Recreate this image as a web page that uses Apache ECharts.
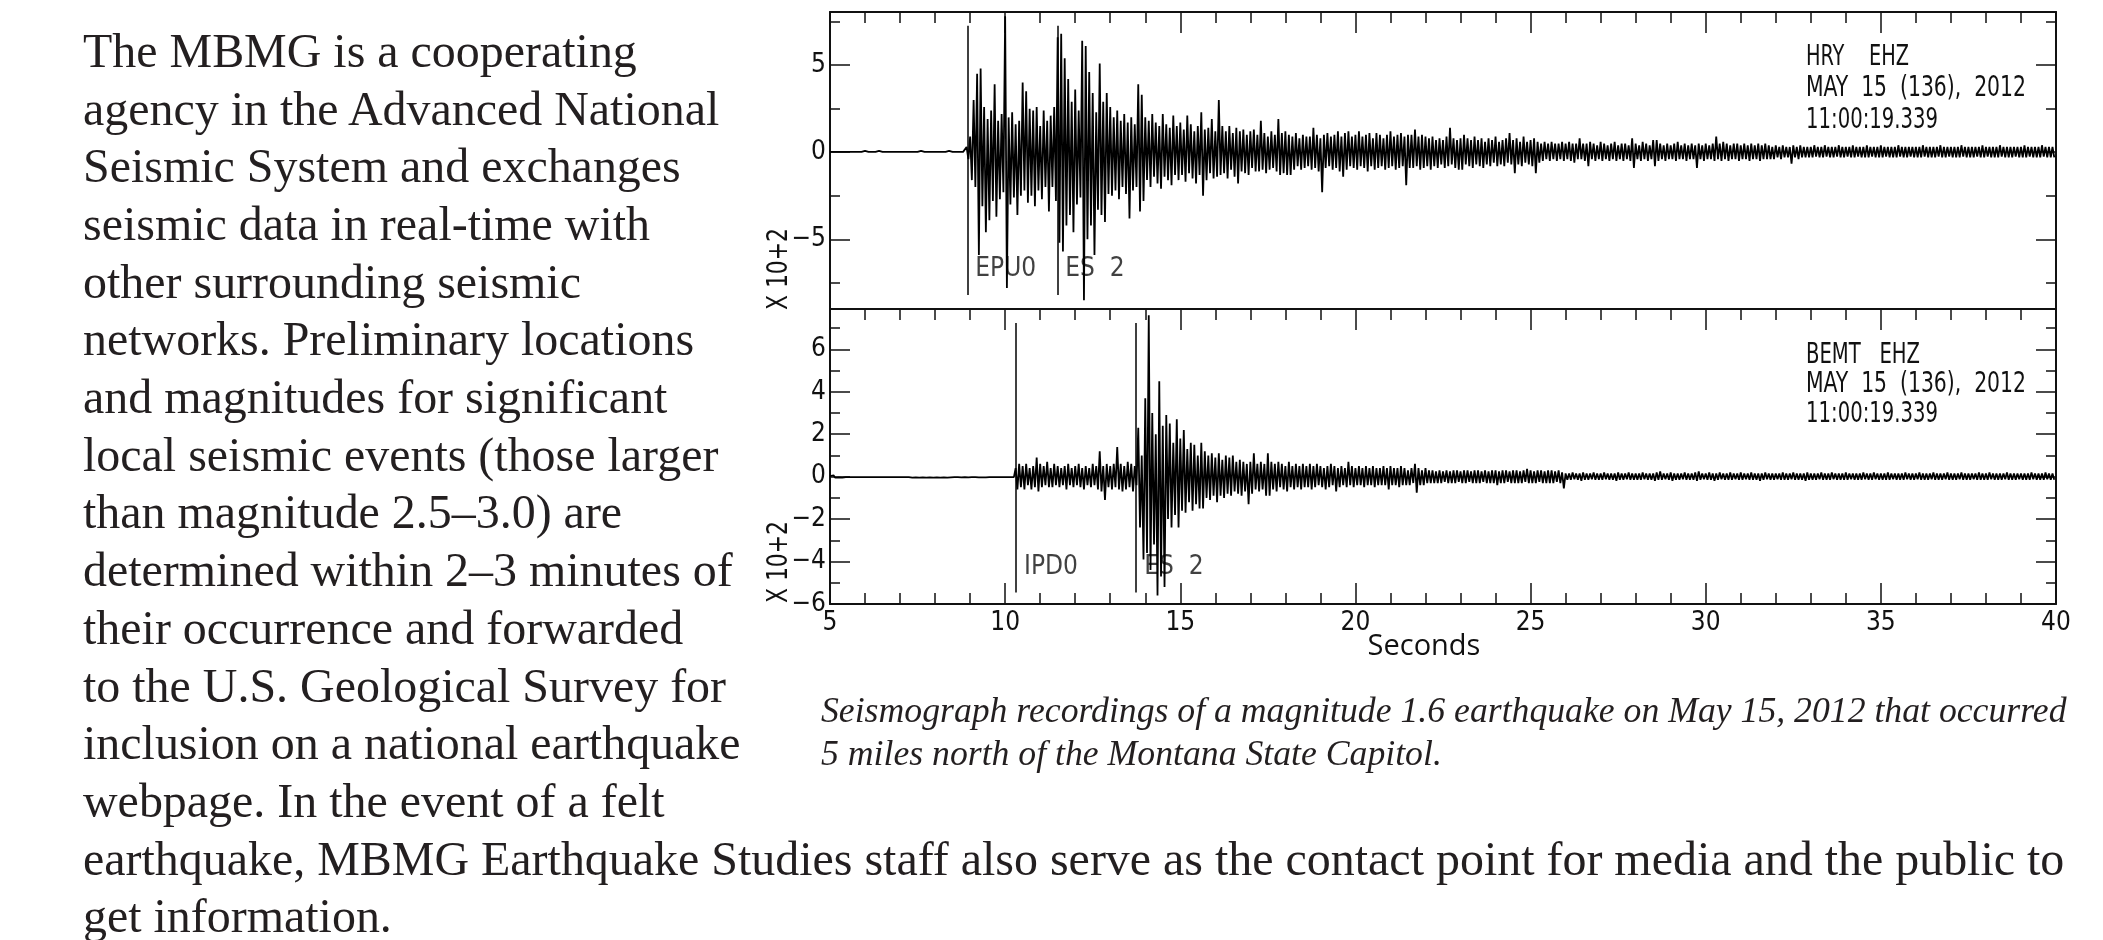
<!DOCTYPE html>
<html>
<head>
<meta charset="utf-8">
<script src="https://cdn.jsdelivr.net/npm/echarts@6/dist/echarts.min.js"></script>
<style>
html,body{margin:0;padding:0;background:#fff;}
#page{position:relative;width:2103px;height:940px;overflow:hidden;background:#fff;}
#chart{position:absolute;left:0;top:0;width:2103px;height:940px;}
.ln{position:absolute;white-space:pre;color:#231f20;font-family:"Liberation Serif","Times New Roman",serif;}
</style>
</head>
<body>
<div id="page"><div id="chart"></div></div>
<script>
// sample grid of both traces: one peak/trough pair per 0.1 s bin, from 5.0 s
var T0 = 5, DT = 0.1;

// HRY EHZ, x 10^2 counts, peak (hi) and trough (lo) per bin
var hryHi = [
 0.02,0.02,0.02,0.02,0.02,0.02,0.02,0.02,0.02,0.02,
 0.08,0.02,0.02,0.02,0.08,0.02,0.02,0.02,0.02,0.02,
 0.02,0.02,0.02,0.02,0.02,0.02,0.08,0.02,0.02,0.02,
 0.02,0.02,0.02,0.02,0.08,0.02,0.02,0.02,0.02,0.3,
 0.9,3.0,4.5,4.8,2.6,1.9,2.4,3.9,1.8,2.2,
 7.8,2.0,2.3,1.6,1.8,4.0,3.5,2.5,2.4,2.6,
 1.5,2.4,1.8,2.1,2.6,6.6,6.8,5.4,4.2,2.9,
 3.6,2.4,6.4,6.1,4.6,3.4,2.3,5.1,2.9,3.4,
 2.6,2.0,2.4,1.8,2.2,1.7,2.0,1.6,3.9,3.3,
 2.0,1.8,2.2,1.7,1.5,2.2,1.6,1.4,2.1,1.5,
 1.7,1.3,2.1,1.6,1.2,1.5,2.3,1.3,1.4,1.9,
 1.2,3.0,1.5,1.2,1.5,1.1,1.4,1.2,1.3,1.0,
 1.2,1.3,1.0,1.8,1.1,0.9,1.2,1.0,1.9,1.1,
 1.2,1.0,0.9,1.1,0.8,1.0,0.9,0.9,1.4,1.0,
 0.8,1.0,1.1,0.9,1.0,1.2,0.9,1.1,1.2,0.9,
 1.0,1.2,0.9,1.0,1.1,0.8,1.1,1.0,0.8,1.0,
 1.2,0.9,1.0,1.1,0.9,1.0,1.0,1.3,0.9,1.0,
 0.9,0.8,0.9,0.7,0.8,0.7,0.9,1.4,0.8,0.7,
 0.8,1.0,0.8,0.7,0.9,0.7,0.8,0.6,0.8,0.7,
 0.9,0.6,0.7,0.8,1.1,0.7,0.8,0.6,0.9,0.6,
 0.7,0.8,0.6,0.5,0.6,0.5,0.6,0.5,0.5,0.6,
 0.5,0.6,0.5,0.5,0.8,0.5,0.5,0.6,0.5,0.4,
 0.6,0.5,0.4,0.5,0.6,0.4,0.5,0.5,0.4,0.8,
 0.5,0.4,0.6,0.5,0.4,0.7,0.7,0.5,0.4,0.5,
 0.4,0.5,0.6,0.4,0.5,0.4,0.5,0.4,0.5,0.4,
 0.5,0.4,0.5,0.9,0.5,0.6,0.5,0.4,0.5,0.5,
 0.4,0.5,0.4,0.5,0.4,0.5,0.4,0.5,0.4,0.3,
 0.4,0.3,0.4,0.3,0.3,0.4,0.3,0.4,0.3,0.3,
 0.3,0.4,0.3,0.3,0.4,0.3,0.3,0.3,0.4,0.3,
 0.3,0.3,0.4,0.3,0.3,0.3,0.4,0.3,0.3,0.3,
 0.4,0.3,0.3,0.3,0.3,0.4,0.3,0.3,0.3,0.3,
 0.3,0.3,0.4,0.3,0.3,0.3,0.3,0.4,0.3,0.3,
 0.3,0.3,0.3,0.4,0.3,0.3,0.3,0.3,0.3,0.4,
 0.3,0.3,0.3,0.3,0.4,0.3,0.3,0.3,0.3,0.3,
 0.3,0.4,0.3,0.3,0.3,0.3,0.4,0.3,0.3,0.3
];
var hryLo = [
 -0.02,-0.02,-0.02,-0.02,-0.02,-0.02,-0.02,-0.02,-0.02,-0.02,
 -0.02,-0.02,-0.02,-0.02,-0.02,-0.02,-0.02,-0.02,-0.02,-0.02,
 -0.02,-0.02,-0.02,-0.02,-0.02,-0.02,-0.02,-0.02,-0.02,-0.02,
 -0.02,-0.02,-0.02,-0.02,-0.02,-0.02,-0.02,-0.02,-0.02,-0.4,
 -1.6,-2.0,-5.9,-3.1,-4.6,-3.9,-2.8,-3.7,-2.7,-2.3,
 -7.8,-3.0,-2.6,-3.6,-2.5,-2.2,-2.9,-2.5,-3.1,-2.2,
 -2.7,-2.0,-3.4,-2.0,-2.8,-5.2,-5.7,-4.2,-3.6,-4.6,
 -3.0,-2.6,-8.5,-5.0,-4.2,-5.9,-3.3,-3.6,-4.0,-2.4,
 -2.5,-2.2,-2.7,-2.0,-2.4,-3.8,-2.2,-2.0,-3.4,-2.8,
 -1.6,-2.0,-1.4,-1.8,-2.1,-1.4,-1.6,-1.9,-1.3,-1.6,
 -1.3,-1.7,-1.2,-1.5,-1.8,-1.3,-2.5,-1.6,-1.2,-1.5,
 -1.4,-1.3,-1.2,-1.5,-1.0,-1.4,-1.8,-1.1,-1.2,-1.3,
 -0.9,-1.1,-1.1,-1.0,-1.2,-1.0,-0.9,-1.1,-1.3,-1.2,
 -1.3,-1.3,-1.0,-0.8,-1.0,-0.9,-0.8,-1.0,-0.9,-1.1,
 -2.3,-0.9,-0.8,-1.0,-0.9,-1.1,-1.4,-1.0,-0.8,-0.9,
 -1.0,-0.8,-0.9,-1.1,-0.8,-1.0,-0.9,-0.8,-1.0,-0.9,
 -0.8,-1.0,-0.9,-0.8,-1.9,-0.9,-0.9,-0.8,-1.0,-0.9,
 -0.8,-1.0,-0.8,-0.9,-0.7,-0.9,-0.8,-0.7,-0.9,-1.0,
 -1.0,-0.7,-0.8,-0.9,-0.7,-0.8,-0.9,-0.7,-0.8,-0.6,
 -0.8,-0.7,-0.8,-0.6,-0.7,-1.2,-0.7,-0.8,-0.6,-0.7,
 -0.8,-1.2,-0.6,-0.5,-0.4,-0.5,-0.4,-0.5,-0.4,-0.5,
 -0.4,-0.5,-0.6,-0.4,-0.4,-0.5,-0.8,-0.4,-0.5,-0.4,
 -0.5,-0.4,-0.5,-0.4,-0.5,-0.4,-0.5,-0.4,-0.5,-0.9,
 -0.4,-0.5,-0.4,-0.5,-0.4,-0.8,-0.5,-0.4,-0.5,-0.4,
 -0.4,-0.5,-0.4,-0.4,-0.5,-0.4,-0.4,-0.9,-0.4,-0.5,
 -0.4,-0.4,-0.5,-0.4,-0.5,-0.4,-0.5,-0.4,-0.4,-0.5,
 -0.4,-0.4,-0.5,-0.4,-0.4,-0.5,-0.4,-0.4,-0.4,-0.4,
 -0.3,-0.4,-0.3,-0.3,-0.65,-0.3,-0.4,-0.3,-0.3,-0.3,
 -0.3,-0.25,-0.3,-0.3,-0.25,-0.3,-0.3,-0.25,-0.3,-0.3,
 -0.25,-0.3,-0.3,-0.25,-0.3,-0.3,-0.3,-0.25,-0.3,-0.3,
 -0.3,-0.25,-0.3,-0.3,-0.3,-0.25,-0.3,-0.3,-0.25,-0.3,
 -0.3,-0.3,-0.25,-0.3,-0.3,-0.3,-0.25,-0.3,-0.3,-0.25,
 -0.3,-0.3,-0.3,-0.25,-0.3,-0.3,-0.3,-0.25,-0.3,-0.3,
 -0.25,-0.3,-0.3,-0.3,-0.25,-0.3,-0.3,-0.3,-0.25,-0.3,
 -0.3,-0.3,-0.25,-0.3,-0.3,-0.3,-0.25,-0.3,-0.3,-0.3
];

// BEMT EHZ, x 10^2 counts
var bemtHi = [
 0.03,0.06,0.03,0.06,0.02,0.02,0.02,0.02,0.02,0.02,
 0.02,0.02,0.02,0.02,0.02,0.02,0.02,0.02,0.02,0.02,
 0.02,0.02,0.02,0.06,0.03,0.06,0.03,0.06,0.03,0.06,
 0.03,0.06,0.03,0.06,0.03,0.02,0.02,0.03,0.02,0.03,
 0.02,0.02,0.03,0.03,0.03,0.02,0.02,0.02,0.02,0.02,
 0.02,0.02,0.02,0.4,0.6,0.5,0.6,0.4,0.5,0.9,
 0.6,0.5,0.7,0.4,0.6,0.5,0.4,0.5,0.6,0.4,
 0.5,0.6,0.4,0.5,0.4,0.6,0.5,1.2,0.5,0.6,
 0.5,0.6,1.4,0.6,0.5,0.7,0.6,0.5,2.3,1.0,
 3.7,7.6,3.0,2.0,4.5,2.4,2.9,2.5,1.6,2.7,
 1.8,2.2,1.3,1.6,1.5,1.0,1.6,1.2,1.0,1.1,
 0.9,1.1,0.8,1.0,0.9,1.0,0.7,0.8,0.7,0.6,
 0.7,1.1,0.6,0.7,0.6,1.1,0.7,0.6,0.7,0.6,
 0.5,0.7,0.5,0.6,0.5,0.6,0.5,0.6,0.5,0.6,
 0.5,0.4,0.5,0.6,0.5,0.4,0.5,0.4,0.7,0.5,
 0.4,0.5,0.4,0.5,0.4,0.5,0.4,0.4,0.5,0.4,
 0.5,0.4,0.4,0.5,0.4,0.3,0.4,0.6,0.4,0.3,
 0.4,0.3,0.3,0.25,0.3,0.25,0.3,0.25,0.3,0.3,
 0.25,0.3,0.3,0.25,0.3,0.3,0.25,0.3,0.25,0.3,
 0.3,0.25,0.3,0.3,0.25,0.3,0.3,0.25,0.3,0.37,
 0.3,0.25,0.3,0.3,0.25,0.3,0.3,0.25,0.3,0.2,
 0.15,0.15,0.2,0.15,0.15,0.2,0.15,0.15,0.2,0.15,
 0.15,0.2,0.15,0.15,0.15,0.2,0.15,0.15,0.2,0.15,
 0.15,0.15,0.2,0.15,0.15,0.15,0.2,0.25,0.15,0.15,
 0.2,0.15,0.15,0.15,0.2,0.15,0.15,0.2,0.25,0.15,
 0.15,0.2,0.15,0.15,0.2,0.15,0.15,0.2,0.15,0.15,
 0.2,0.15,0.15,0.2,0.15,0.15,0.15,0.2,0.15,0.15,
 0.15,0.15,0.2,0.15,0.15,0.2,0.15,0.15,0.15,0.2,
 0.15,0.15,0.15,0.2,0.15,0.15,0.2,0.15,0.15,0.15,
 0.2,0.15,0.15,0.15,0.15,0.2,0.15,0.15,0.2,0.15,
 0.15,0.15,0.2,0.15,0.15,0.15,0.15,0.2,0.15,0.15,
 0.15,0.2,0.15,0.15,0.15,0.2,0.15,0.15,0.15,0.2,
 0.15,0.15,0.15,0.2,0.15,0.15,0.15,0.15,0.2,0.15,
 0.15,0.2,0.15,0.15,0.15,0.15,0.2,0.15,0.15,0.15,
 0.15,0.15,0.15,0.2,0.15,0.15,0.15,0.2,0.15,0.15
];
var bemtLo = [
 -0.03,-0.05,-0.03,-0.05,-0.02,-0.02,-0.02,-0.02,-0.02,-0.02,
 -0.02,-0.02,-0.02,-0.02,-0.02,-0.02,-0.02,-0.02,-0.02,-0.02,
 -0.02,-0.02,-0.02,-0.05,-0.03,-0.05,-0.03,-0.05,-0.03,-0.05,
 -0.03,-0.05,-0.03,-0.05,-0.03,-0.02,-0.02,-0.03,-0.02,-0.03,
 -0.02,-0.02,-0.03,-0.03,-0.03,-0.02,-0.02,-0.02,-0.02,-0.02,
 -0.02,-0.02,-0.02,-0.6,-0.5,-0.6,-0.4,-0.6,-0.5,-0.7,
 -0.5,-0.4,-0.5,-0.5,-0.4,-0.5,-0.4,-0.6,-0.4,-0.5,
 -0.4,-0.5,-0.6,-0.4,-0.5,-0.4,-0.6,-0.7,-1.1,-0.5,
 -0.6,-0.5,-0.6,-0.7,-0.6,-0.5,-0.7,-0.4,-2.4,-3.9,
 -3.6,-4.4,-3.2,-5.6,-4.7,-5.2,-2.0,-2.4,-1.8,-2.4,
 -1.6,-1.7,-1.2,-1.6,-1.3,-1.5,-1.5,-1.0,-1.1,-0.9,
 -1.2,-0.9,-1.0,-0.8,-0.9,-0.7,-0.8,-0.9,-0.7,-1.3,
 -0.8,-0.6,-0.7,-0.6,-0.9,-0.9,-0.6,-0.7,-0.5,-0.6,
 -0.7,-0.5,-0.6,-0.5,-0.6,-0.5,-0.5,-0.6,-0.5,-0.4,
 -0.5,-0.6,-0.5,-0.4,-0.7,-0.5,-0.4,-0.5,-0.4,-0.5,
 -0.4,-0.4,-0.5,-0.4,-0.4,-0.5,-0.4,-0.4,-0.4,-0.6,
 -0.4,-0.4,-0.5,-0.4,-0.4,-0.4,-0.3,-0.75,-0.4,-0.4,
 -0.3,-0.3,-0.3,-0.3,-0.3,-0.25,-0.3,-0.3,-0.3,-0.25,
 -0.3,-0.3,-0.25,-0.3,-0.3,-0.3,-0.25,-0.3,-0.3,-0.3,
 -0.4,-0.3,-0.3,-0.25,-0.3,-0.3,-0.3,-0.3,-0.25,-0.3,
 -0.3,-0.3,-0.25,-0.3,-0.3,-0.3,-0.3,-0.25,-0.3,-0.55,
 -0.15,-0.15,-0.12,-0.15,-0.2,-0.15,-0.15,-0.12,-0.15,-0.15,
 -0.15,-0.12,-0.15,-0.15,-0.2,-0.15,-0.15,-0.12,-0.15,-0.15,
 -0.15,-0.15,-0.12,-0.15,-0.15,-0.2,-0.15,-0.15,-0.12,-0.15,
 -0.2,-0.15,-0.15,-0.12,-0.15,-0.15,-0.15,-0.2,-0.15,-0.12,
 -0.15,-0.15,-0.2,-0.15,-0.12,-0.15,-0.15,-0.15,-0.12,-0.15,
 -0.15,-0.12,-0.15,-0.15,-0.15,-0.2,-0.15,-0.12,-0.15,-0.15,
 -0.12,-0.15,-0.15,-0.15,-0.12,-0.15,-0.15,-0.15,-0.2,-0.15,
 -0.15,-0.15,-0.12,-0.15,-0.15,-0.15,-0.12,-0.15,-0.15,-0.15,
 -0.15,-0.12,-0.15,-0.15,-0.15,-0.12,-0.15,-0.15,-0.12,-0.15,
 -0.15,-0.15,-0.15,-0.12,-0.15,-0.15,-0.15,-0.12,-0.15,-0.15,
 -0.12,-0.15,-0.15,-0.15,-0.12,-0.15,-0.15,-0.15,-0.12,-0.15,
 -0.15,-0.15,-0.12,-0.15,-0.15,-0.15,-0.12,-0.15,-0.15,-0.15,
 -0.15,-0.12,-0.15,-0.15,-0.15,-0.12,-0.15,-0.15,-0.15,-0.12,
 -0.15,-0.15,-0.15,-0.12,-0.15,-0.15,-0.15,-0.12,-0.15,-0.15
];

// axes
var xRange = [5, 40];
var hryRange = [-9, 8.05], bemtRange = [-6, 7.9];
var hryMajor = [-5, 0, 5], hryMinor = [-7.5, -2.5, 2.5, 7.5];
var bemtMajor = [-6, -4, -2, 0, 2, 4, 6], bemtMinor = [-5, -3, -1, 1, 3, 5, 7];

// phase picks
var hryPickT = [8.92, 11.49], hryPickName = ['EPU0', 'ES  2'];
var bemtPickT = [10.31, 13.74], bemtPickName = ['IPD0', 'ES  2'];
var hryPickSpan = [-8.2, 7.26], bemtPickSpan = [-5.46, 7.24];
var hryPickLabelY = -6.74, bemtPickLabelY = -4.26;

// texts
var hryInfo = ['HRY    EHZ', 'MAY  15  (136),  2012', '11:00:19.339'];
var bemtInfo = ['BEMT   EHZ', 'MAY  15  (136),  2012', '11:00:19.339'];
var yName = 'X 10+2', xName = 'Seconds';
var paraLines = [
 'The MBMG is a cooperating',
 'agency in the Advanced National',
 'Seismic System and exchanges',
 'seismic data in real-time with',
 'other surrounding seismic',
 'networks. Preliminary locations',
 'and magnitudes for significant',
 'local seismic events (those larger',
 'than magnitude 2.5\u20133.0) are',
 'determined within 2\u20133 minutes of',
 'their occurrence and forwarded',
 'to the U.S. Geological Survey for',
 'inclusion on a national earthquake',
 'webpage. In the event of a felt',
 'earthquake, MBMG Earthquake Studies staff also serve as the contact point for media and the public to',
 'get information.'
];
var captionLines = [
 'Seismograph recordings of a magnitude 1.6 earthquake on May 15, 2012 that occurred',
 '5 miles north of the Montana State Capitol.'
];

/* ---------- layout ---------- */
var INK = '#111', GRID_L = 830, GRID_W = 1226, TOP_Y = 12, MID_Y = 309, BOT_Y = 604;
var ctx = document.createElement('canvas').getContext('2d');
function textW(t, font){ ctx.font = font; return ctx.measureText(t).width; }
function hasFont(name){
  var probe = 'MAY 15 (136) EPU0 11:00';
  return textW(probe, '40px monospace') !== textW(probe, '40px "' + name + '", monospace');
}
var NARROW = hasFont('Liberation Sans Narrow') ? '"Liberation Sans Narrow"' :
             (hasFont('DejaVu Sans Condensed') ? '"DejaVu Sans Condensed"' : '"Liberation Sans"');

function zig(hi, lo){
  var pts = [];
  for (var i = 0; i < hi.length; i++){
    pts.push([+(T0 + i*DT).toFixed(3), hi[i]]);
    pts.push([+(T0 + i*DT + DT/2).toFixed(3), lo[i]]);
  }
  return pts;
}
function minus(v){ return v < 0 ? '\u2212' + Math.abs(v) : String(v); }

function xAx(grid, pos, ticks, labels){
  return {
    type:'value', gridIndex:grid, position:pos, min:xRange[0], max:xRange[1], interval:5,
    axisLine:{onZero:false, lineStyle:{color:INK, width:2}},
    axisTick:{show:ticks, inside:true, length:21, lineStyle:{color:INK, width:1.5}},
    minorTick:{show:ticks, splitNumber:5, length:11, lineStyle:{color:INK, width:1.5}},
    axisLabel:{show:labels, color:INK, fontSize:26, fontFamily:NARROW, margin:6, showMinLabel:true, showMaxLabel:true},
    splitLine:{show:false}
  };
}
function yAx(grid, pos, range, vals, len, line, labels){
  return {
    type:'value', gridIndex:grid, position:pos, min:range[0], max:range[1],
    axisLine:{show:line, onZero:false, lineStyle:{color:INK, width:2}},
    axisTick:{show:true, inside:true, length:len, customValues:vals, lineStyle:{color:INK, width:1.5}},
    axisLabel:{show:labels, customValues:vals, formatter:minus, color:INK, fontSize:26, fontFamily:NARROW, margin:4},
    splitLine:{show:false}
  };
}
function picks(times, span){
  return times.map(function(t){ return [{coord:[t, span[1]]}, {coord:[t, span[0]]}]; });
}
function pickLabels(times, names, y){
  return times.map(function(t, i){ return {value:[t, y], name:names[i]}; });
}
function infoText(lines, ys, widths){
  return lines.map(function(s, i){
    var font = '29px ' + NARROW;
    return {type:'text', x:1806, y:ys[i], scaleX:widths[i]/textW(s, font), silent:true,
      style:{text:s, font:font, fill:INK, align:'left', verticalAlign:'middle'}};
  });
}
function yNameText(yBottom){
  var font = '28px ' + NARROW;
  return {type:'text', x:780, y:yBottom, rotation:Math.PI/2, scaleX:82/textW(yName, font), silent:true,
    style:{text:yName, font:font, fill:INK, align:'left', verticalAlign:'middle'}};
}

var traceLine = {color:'#000', width:1.8};
var pickStyle = {color:'#000', width:1.5, type:'solid'};
var pickLabel = {show:true, position:'right', distance:8, formatter:'{b}', color:INK, fontSize:26, fontFamily:NARROW};

var chart = echarts.init(document.getElementById('chart'), null, {renderer:'canvas'});
chart.setOption({
  animation:false,
  backgroundColor:'#fff',
  grid:[
    {left:GRID_L, top:TOP_Y, width:GRID_W, height:MID_Y-TOP_Y},
    {left:GRID_L, top:MID_Y, width:GRID_W, height:BOT_Y-MID_Y}
  ],
  xAxis:[xAx(0,'top',true,false), xAx(0,'bottom',false,false), xAx(1,'top',true,false), xAx(1,'bottom',true,true)],
  yAxis:[
    yAx(0,'left',hryRange,hryMajor,20,true,true), yAx(0,'left',hryRange,hryMinor,10,false,false),
    yAx(0,'right',hryRange,hryMajor,20,true,false), yAx(0,'right',hryRange,hryMinor,10,false,false),
    yAx(1,'left',bemtRange,bemtMajor,20,true,true), yAx(1,'left',bemtRange,bemtMinor,10,false,false),
    yAx(1,'right',bemtRange,bemtMajor,20,true,false), yAx(1,'right',bemtRange,bemtMinor,10,false,false)
  ],
  series:[
    {type:'line', name:'HRY', xAxisIndex:1, yAxisIndex:0, data:zig(hryHi, hryLo), symbol:'none', silent:true,
     lineStyle:traceLine, markLine:{symbol:'none', silent:true, label:{show:false}, lineStyle:pickStyle, data:picks(hryPickT, hryPickSpan)}},
    {type:'line', name:'BEMT', xAxisIndex:3, yAxisIndex:4, data:zig(bemtHi, bemtLo), symbol:'none', silent:true,
     lineStyle:traceLine, markLine:{symbol:'none', silent:true, label:{show:false}, lineStyle:pickStyle, data:picks(bemtPickT, bemtPickSpan)}},
    {type:'scatter', xAxisIndex:1, yAxisIndex:0, symbolSize:0, silent:true, label:pickLabel, data:pickLabels(hryPickT, hryPickName, hryPickLabelY)},
    {type:'scatter', xAxisIndex:3, yAxisIndex:4, symbolSize:0, silent:true, label:pickLabel, data:pickLabels(bemtPickT, bemtPickName, bemtPickLabelY)}
  ],
  graphic:[].concat(
    infoText(hryInfo, [57.5, 88.5, 120], [103, 220, 132]),
    infoText(bemtInfo, [355, 384, 414.5], [114, 220, 132]),
    [yNameText(310), yNameText(603),
     {type:'text', x:1424, y:647, silent:true,
      style:{text:xName, font:'29px "Open Sans","Noto Sans",sans-serif', fill:INK, align:'center', verticalAlign:'middle'}}]
  )
});

/* ---------- surrounding page text ---------- */
var page = document.getElementById('page');
function addLines(lines, font, left, base0, step, fitIdx, fitW, italic){
  var size = 100 * fitW / textW(lines[fitIdx], (italic ? 'italic ' : '') + '100px ' + font);
  lines.forEach(function(s, i){
    var d = document.createElement('div');
    d.className = 'ln';
    d.textContent = s;
    d.style.fontSize = size + 'px';
    d.style.lineHeight = size + 'px';
    if (italic) d.style.fontStyle = 'italic';
    d.style.left = left + 'px';
    d.style.top = (base0 + i*step - 0.8375*size) + 'px';
    page.appendChild(d);
  });
}
addLines(paraLines, '"Liberation Serif"', 83, 67, 57.7, 14, 1982, false);
addLines(captionLines, '"Liberation Serif"', 821, 723, 43, 0, 1246, true);
</script>
</body>
</html>
